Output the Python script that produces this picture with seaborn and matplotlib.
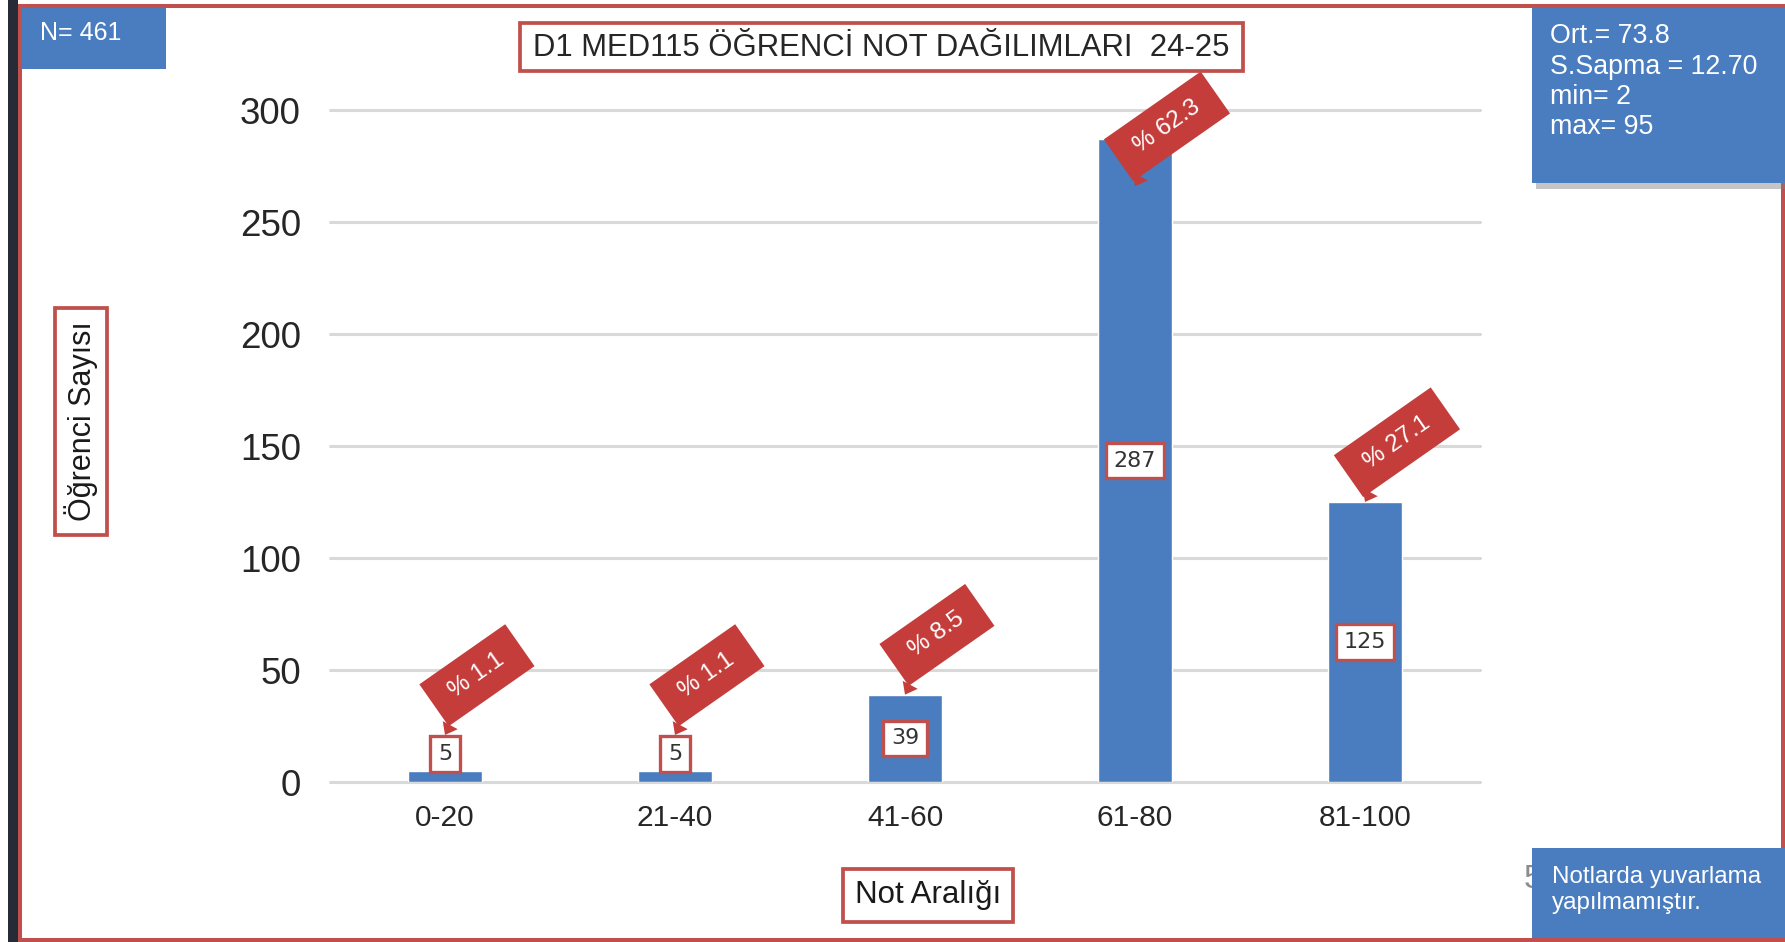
import matplotlib
matplotlib.use('Agg')
import matplotlib.pyplot as plt
import matplotlib.patches as mpatches
import seaborn as sns
import numpy as np
import pandas as pd

# data
categories = ['0-20', '21-40', '41-60', '61-80', '81-100']
counts = [5, 5, 39, 287, 125]
percents = [1.1, 1.1, 8.5, 62.3, 27.1]
y_ticks = [0, 50, 100, 150, 200, 250, 300]
title = 'D1 MED115 ÖĞRENCİ NOT DAĞILIMLARI  24-25'
n_text = 'N= 461'
stats_lines = ['Ort.= 73.8', 'S.Sapma = 12.70', 'min= 2', 'max= 95']
note_lines = ['Notlarda yuvarlama', 'yapılmamıştır.']
xlabel = 'Not Aralığı'
ylabel = 'Öğrenci Sayısı'

BLUE = '#4a7dbf'
RED = '#c0504d'
CALLOUT = '#c43d3b'
W, H = 1785, 942

sns.set_style('white')
plt.rcParams['font.family'] = ['Liberation Sans', 'DejaVu Sans']

fig = plt.figure(figsize=(W / 100, H / 100), dpi=100)


def fx(px):
    return px / W


def fy(py):
    return 1 - py / H


def fig_box(x0, y0, x1, y1, fc, ec='none', lw=0, z=1, alpha=1):
    r = mpatches.Rectangle((fx(x0), fy(y1)), (x1 - x0) / W, (y1 - y0) / H,
                           transform=fig.transFigure, fc=fc, ec=ec, lw=lw,
                           zorder=z, alpha=alpha)
    fig.add_artist(r)


# slide frame
fig_box(8, 0, 18, H, '#262b36', z=0.5)
fig_box(20, 6, 1783, 940, 'none', ec=RED, lw=2.9, z=0.6)

ax = fig.add_axes([fx(330), fy(782), (1480 - 330) / W, (782 - 110) / H])
df = pd.DataFrame({'range': categories, 'count': counts})
sns.barplot(data=df, x='range', y='count', color=BLUE, saturation=1,
            width=0.32, ax=ax, zorder=2)

ax.set_xlim(-0.5, 4.5)
ax.set_ylim(0, 300)
ax.set_yticks(y_ticks)
ax.grid(axis='y', color='#d9d9d9', lw=2.2)
ax.set_axisbelow(True)
for line in ax.get_ygridlines():
    line.set_clip_on(False)
sns.despine(ax=ax, left=True, bottom=True)
ax.tick_params(axis='y', length=0, pad=21, labelsize=26.5, labelcolor='#262626')
ax.tick_params(axis='x', length=0, pad=16, labelsize=21.5, labelcolor='#262626')
ax.set_xlabel('')
ax.set_ylabel('')

# value boxes
for i, v in enumerate(counts):
    y = v / 2 if v >= 20 else v + 7.5
    ax.text(i, y, str(v), ha='center', va='center', fontsize=16,
            family='DejaVu Sans', color='#333333', zorder=4,
            bbox=dict(boxstyle='square,pad=0.35', fc='white', ec=RED, lw=2.4))

# percent callouts
tips = np.clip(counts, 21, 266)
for i, (p, t) in enumerate(zip(percents, tips)):
    ax.annotate(f' % {p} ', xy=(i, t), xytext=(23, 43),
                textcoords='offset points', ha='center', va='center',
                rotation=35, rotation_mode='anchor', fontsize=17.5,
                color='white', zorder=5, annotation_clip=False,
                bbox=dict(boxstyle='square,pad=0.6', fc=CALLOUT, ec='none'),
                arrowprops=dict(arrowstyle='wedge,tail_width=0.7', fc=CALLOUT,
                                ec='none', shrinkA=0, shrinkB=0))

# title box
fig_box(520, 23, 1243, 71, 'white', ec=RED, lw=2.7, z=3)
fig.text(fx(881.5), fy(47.5), title, ha='center', va='center', fontsize=22.4,
         color='#262626', zorder=4)

# N box
fig_box(22, 8, 166, 69, BLUE, z=3)
fig.text(fx(40), fy(40), n_text, ha='left', va='baseline', fontsize=18,
         color='white', zorder=4)

# stats box
fig_box(1536, 13, 1785, 189, '#808080', z=2.9, alpha=0.45)
fig_box(1532, 8, 1785, 183, BLUE, z=3)
for k, s in enumerate(stats_lines):
    fig.text(fx(1550), fy(43 + 30.5 * k), s, ha='left', va='baseline',
             fontsize=19.3, color='white', zorder=4)

# note box (slide number peeks out behind it)
fig.text(fx(1524), fy(888), '5', ha='left', va='baseline', fontsize=24,
         color='#8c8c8c', zorder=2)
fig_box(1532, 848, 1785, 938, BLUE, z=3)
for k, s in enumerate(note_lines):
    fig.text(fx(1552), fy(883 + 26 * k), s, ha='left', va='baseline',
             fontsize=17.4, color='white', zorder=4)

# axis label boxes
fig_box(55, 308, 107, 535, 'white', ec=RED, lw=2.7, z=3)
fig.text(fx(81), fy(421.5), ylabel, rotation=90, ha='center', va='center',
         fontsize=22, color='#1a1a1a', zorder=4)
fig_box(843, 869, 1013, 922, 'white', ec=RED, lw=2.7, z=3)
fig.text(fx(928), fy(895.5), xlabel, ha='center', va='center',
         fontsize=22.5, color='#1a1a1a', zorder=4)

fig.savefig('out.png', dpi=100)
